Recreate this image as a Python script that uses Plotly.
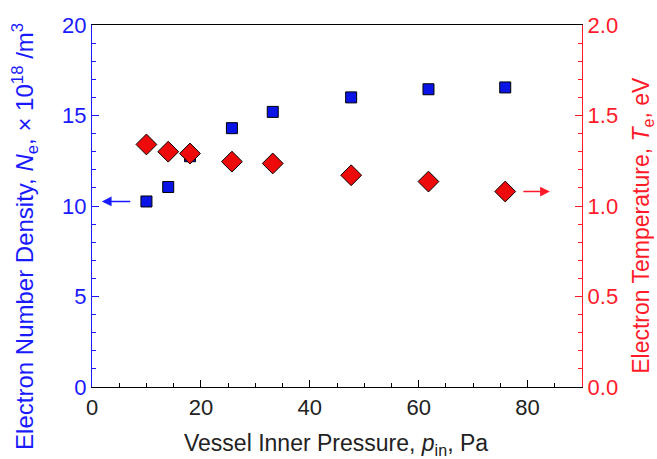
import plotly.graph_objects as go

pressure = [10, 14, 18, 25.7, 33.2, 47.6, 61.8, 75.9]
density = [10.25, 11.05, 12.75, 14.3, 15.2, 16.0, 16.45, 16.55]
temperature = [1.34, 1.30, 1.29, 1.245, 1.235, 1.17, 1.135, 1.08]

FONT = "Liberation Sans, Arial, sans-serif"
BLUE = "#1a1aff"
RED = "#ff1a2a"

fig = go.Figure()
fig.add_trace(go.Scatter(x=pressure, y=density, mode="markers", yaxis="y",
                         marker=dict(symbol="square", size=11, color="#0a14e6",
                                     line=dict(color="black", width=1)),
                         showlegend=False))
fig.add_trace(go.Scatter(x=pressure, y=temperature, mode="markers", yaxis="y2",
                         marker=dict(symbol="diamond", size=16, color="#ee0a0a",
                                     line=dict(color="black", width=1)),
                         showlegend=False))

# arrows indicating axes
fig.add_annotation(x=1.8, y=density[0], xref="x", yref="y", ax=30, ay=0,
                   showarrow=True, arrowhead=2, arrowsize=1.3, arrowwidth=1.5,
                   arrowcolor=BLUE, text="")
fig.add_annotation(x=84.1, y=temperature[-1], xref="x", yref="y2", ax=-28, ay=0,
                   showarrow=True, arrowhead=2, arrowsize=1.3, arrowwidth=1.5,
                   arrowcolor=RED, text="")

# axis titles
fig.add_annotation(text="Electron Number Density, <i>N</i><sub>e</sub>, × 10<sup>18</sup> /m<sup>3</sup>",
                   xref="paper", yref="paper", x=-0.137, y=0.417,
                   xanchor="center", yanchor="middle", textangle=-90,
                   showarrow=False, font=dict(size=24, color=BLUE))
fig.add_annotation(text="Electron Temperature, <i>T</i><sub>e</sub>, eV",
                   xref="paper", yref="paper", x=1.122, y=0.4475,
                   xanchor="center", yanchor="middle", textangle=-90,
                   showarrow=False, font=dict(size=23, color=RED))
fig.add_annotation(text="Vessel Inner Pressure, <i>p</i><sub>in</sub>, Pa",
                   xref="paper", yref="paper", x=0.498, y=-0.160,
                   xanchor="center", yanchor="middle",
                   showarrow=False, font=dict(size=23, color="#222"))

fig.update_layout(
    width=657, height=459,
    margin=dict(l=92, r=75, t=25, b=72),
    paper_bgcolor="white", plot_bgcolor="white",
    font=dict(family=FONT, size=22, color="black"),
    xaxis=dict(range=[0, 90], dtick=20, tick0=0, ticks="inside", ticklen=7,
               tickwidth=1.3, automargin=False,
               tickcolor="black", showline=True, linecolor="black", linewidth=1.3,
               mirror=True, showgrid=False, zeroline=False,
               minor=dict(dtick=5, ticks="inside", ticklen=4, tickwidth=1.1,
                          tickcolor="black"),
               tickfont=dict(size=22, color="#222")),
    yaxis=dict(range=[0, 20], dtick=5, ticks="inside", ticklen=7, tickcolor=BLUE,
               tickwidth=1.3, automargin=False,
               showline=True, linecolor=BLUE, linewidth=1.3, showgrid=False,
               zeroline=False,
               minor=dict(dtick=1, ticks="inside", ticklen=4, tickwidth=1.1,
                          tickcolor=BLUE),
               tickfont=dict(size=22, color=BLUE)),
    yaxis2=dict(range=[0, 2], dtick=0.5, tickformat=".1f", overlaying="y",
                side="right", ticks="inside", ticklen=7, tickcolor=RED,
                tickwidth=1.3, automargin=False,
                showline=True, linecolor=RED, linewidth=1.3, showgrid=False,
                zeroline=False,
                minor=dict(dtick=0.1, ticks="inside", ticklen=4, tickwidth=1.1,
                           tickcolor=RED),
                tickfont=dict(size=22, color=RED)),
)

fig.write_html("out.html", config={"displayModeBar": False},
               post_script="document.body.style.margin='0';document.body.style.overflow='hidden';")
